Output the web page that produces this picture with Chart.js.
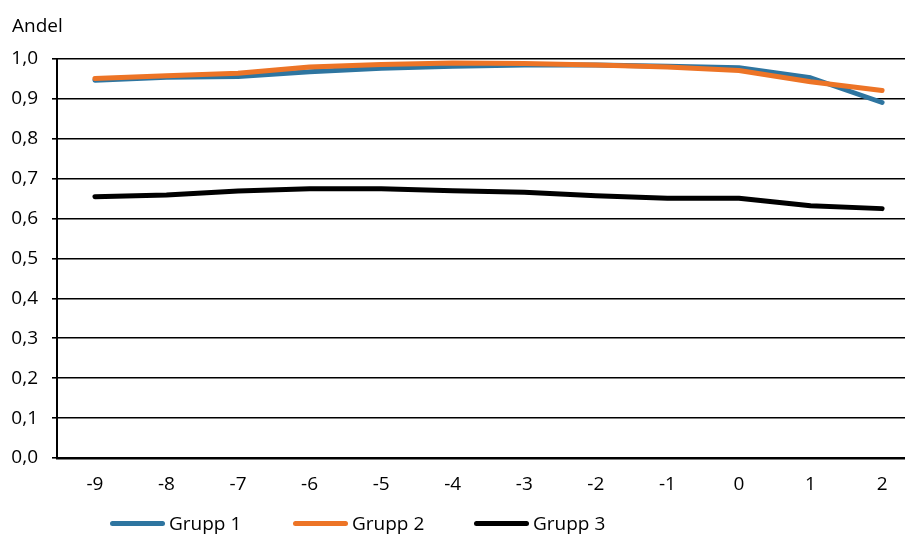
<!DOCTYPE html>
<html lang="sv">
<head>
<meta charset="utf-8">
<title>Andel per grupp</title>
<script src="https://cdn.jsdelivr.net/npm/chart.js@4/dist/chart.umd.min.js"></script>
<style>
    html, body { margin: 0; padding: 0; background: #fff; }
    body { width: 905px; height: 539px; position: relative; overflow: hidden; font-family: "Open Sans", sans-serif; color: #000; }
    #wrap { position: absolute; left: 0; top: 0; width: 905px; height: 539px; }
    #yTitle { position: absolute; left: 12px; top: 12px; font-size: 19px; line-height: 26px; }
    .legend-item { position: absolute; top: 510px; display: flex; align-items: center; font-size: 19px; line-height: 26px; white-space: nowrap; }
    .legend-swatch { width: 55px; height: 5px; border-radius: 3px; margin-right: 4px; }
</style>
</head>
<body>
<div id="wrap"><canvas id="chart" width="905" height="539"></canvas></div>
<div id="yTitle">Andel</div>
<div id="legend"></div>
<script>
// x-axis categories (år relativt händelsen)
const years = [-9, -8, -7, -6, -5, -4, -3, -2, -1, 0, 1, 2];

// andel per grupp
const grupp1 = [0.947, 0.954, 0.956, 0.968, 0.977, 0.982, 0.985, 0.985, 0.982, 0.978, 0.953, 0.891];
const grupp2 = [0.951, 0.958, 0.964, 0.980, 0.986, 0.990, 0.989, 0.985, 0.980, 0.971, 0.943, 0.921];
const grupp3 = [0.655, 0.659, 0.669, 0.675, 0.675, 0.670, 0.666, 0.657, 0.651, 0.651, 0.632, 0.625];

const seriesNames = ['Grupp 1', 'Grupp 2', 'Grupp 3'];
const seriesColors = ['#2E75A0', '#ED7426', '#000000'];

const yTicks = [0, 0.1, 0.2, 0.3, 0.4, 0.5, 0.6, 0.7, 0.8, 0.9, 1.0];

const FONT = { family: '"Open Sans", sans-serif', size: 19 };

function toPoints(values) {
    return years.map((x, i) => ({ x: x, y: values[i] }));
}

function lineDataset(label, values, color, order) {
    return {
        label: label,
        data: toPoints(values),
        borderColor: color,
        backgroundColor: color,
        borderWidth: 5,
        borderCapStyle: 'round',
        borderJoinStyle: 'round',
        pointRadius: 0,
        tension: 0,
        order: order
    };
}

const ctx = document.getElementById('chart').getContext('2d');

new Chart(ctx, {
    type: 'line',
    data: {
        datasets: [
            lineDataset(seriesNames[0], grupp1, seriesColors[0], 2),
            lineDataset(seriesNames[1], grupp2, seriesColors[1], 1),
            lineDataset(seriesNames[2], grupp3, seriesColors[2], 0)
        ]
    },
    options: {
        responsive: false,
        animation: false,
        layout: { padding: { top: 59, right: 0, bottom: 41, left: 0 } },
        plugins: {
            legend: { display: false },
            tooltip: { enabled: false }
        },
        scales: {
            x: {
                type: 'linear',
                min: -9.53,
                max: 2.32,
                afterBuildTicks: function(scale) {
                    scale.ticks = years.map(v => ({ value: v }));
                },
                afterFit: function(scale) {
                    scale.height = 40;
                },
                grid: { display: false, drawTicks: false },
                border: { display: true, color: '#000', width: 2.5 },
                ticks: {
                    color: '#000',
                    font: FONT,
                    padding: 15,
                    maxRotation: 0,
                    autoSkip: false
                }
            },
            y: {
                min: 0,
                max: 1,
                afterBuildTicks: function(scale) {
                    scale.ticks = yTicks.map(v => ({ value: v }));
                },
                afterFit: function(scale) {
                    scale.width = 57;
                },
                grid: {
                    color: '#000',
                    lineWidth: 1.6,
                    tickLength: 5,
                    drawTicks: true
                },
                border: { display: true, color: '#000', width: 2 },
                ticks: {
                    color: '#000',
                    font: FONT,
                    padding: 14,
                    callback: v => v.toFixed(1).replace('.', ',')
                }
            }
        }
    }
});

// legend below the plot
const legendLeft = [110, 293, 474];
const legendBox = document.getElementById('legend');
seriesNames.forEach((name, i) => {
    const item = document.createElement('div');
    item.className = 'legend-item';
    item.style.left = legendLeft[i] + 'px';
    const swatch = document.createElement('span');
    swatch.className = 'legend-swatch';
    swatch.style.background = seriesColors[i];
    const label = document.createElement('span');
    label.textContent = name;
    item.appendChild(swatch);
    item.appendChild(label);
    legendBox.appendChild(item);
});
</script>
</body>
</html>
